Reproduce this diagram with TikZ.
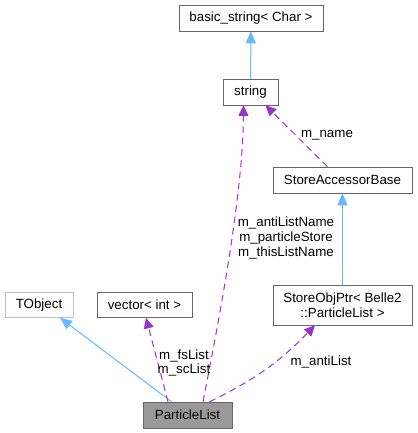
\documentclass[tikz,border=0pt]{standalone}
\usepackage{fontspec}
\setmainfont{Liberation Sans}
\usetikzlibrary{arrows.meta,calc}
\definecolor{boxedge}{HTML}{666666}
\definecolor{inheritblue}{HTML}{63B8FF}
\definecolor{usepurple}{HTML}{9A32CD}
\begin{document}
\begin{tikzpicture}[x=0.75pt, y=-0.75pt,
    main/.style = {draw=boxedge, rectangle, inner sep=0pt, align=center,
      font=\fontsize{10}{11.2}\selectfont, minimum height=19.5pt},
    lbl/.style = {inner sep=0pt, align=center, font=\fontsize{10}{11}\selectfont},
    inherit/.style = {draw=inheritblue, line width=0.75pt,
      -{Triangle[length=9pt, width=7.5pt, fill=inheritblue]}},
    uses/.style = {draw=usepurple, line width=0.75pt, dash pattern=on 5pt off 3.5pt,
      -{Triangle[length=8pt, width=7.5pt, fill=usepurple]}}]
        \useasboundingbox (0,0) rectangle (418,433);
        \node[main, minimum width=108pt] (bstr) at (251,18) {basic\_string< Char >};
        \node[main, minimum width=41.25pt] (str) at (250.5,92) {string};
        \node[main, minimum width=104.25pt] (sab) at (342.5,180) {StoreAccessorBase};
        \node[main, minimum width=104.25pt, minimum height=30pt] (sop) at (342.5,305) {StoreObjPtr< Belle2\\::ParticleList >};
        \node[main, draw=black!25, minimum width=51pt, minimum height=18.75pt] (tobj) at (39,305) {TObject};
        \node[main, minimum width=71.25pt, minimum height=18.75pt] (vec) at (144.5,305) {vector< int >};
        \node[main, fill=black!40, minimum width=66.75pt] (plist) at (187.5,415) {ParticleList};
        %
        \draw[inherit] (str) -- (bstr);
        \draw[inherit] (sop) -- (sab);
        \draw[inherit] ($(plist.north)+(-16,0)$) -- ($(tobj.south)+(21,0)$);
        \draw[uses] ($(sab.north)+(-15,0)$) -- ($(str.south)+(15,0)$);
        \draw[uses] ($(plist.north)+(-19.5,0)$) -- ($(vec.south)+(1.5,0)$);
        \draw[uses] ($(plist.north)+(15.5,0)$) .. controls (215,340) and (243,200) .. ($(str.south)+(-7,0)$);
        \draw[uses] ($(plist.north)+(22,0)$) to[bend right=10] ($(sop.south)+(-27.5,0)$);
        %
        \node[lbl] (lname) at (327,135) {m\_name};
        \node[lbl] (lstr) at (286,238) {m\_antiListName\\m\_particleStore\\m\_thisListName};
        \node[lbl] (lvec) at (184,363) {m\_fsList\\m\_scList};
        \node[lbl] (lanti) at (321,362) {m\_antiList};
      \end{tikzpicture}
\end{document}
